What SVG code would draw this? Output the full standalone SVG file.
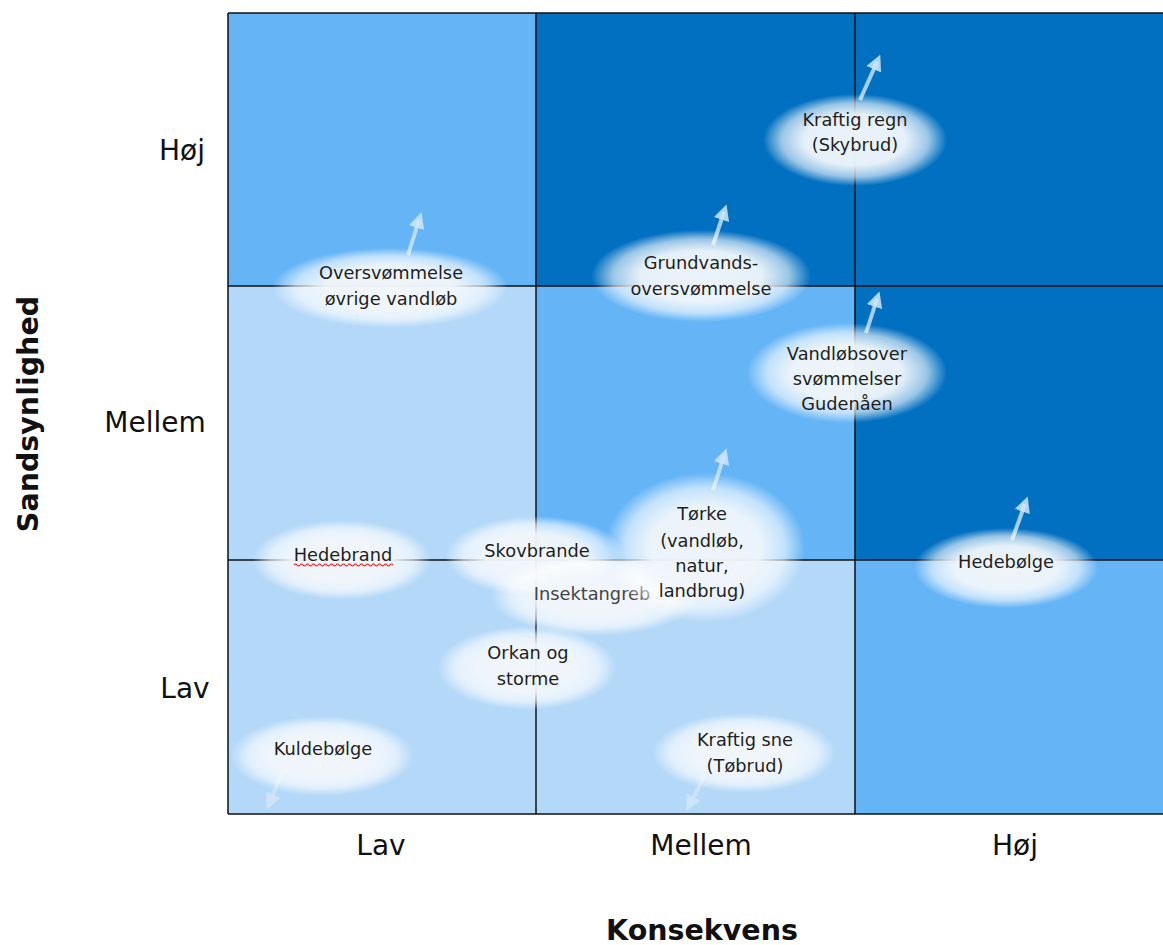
<svg xmlns="http://www.w3.org/2000/svg" width="1163" height="945" viewBox="0 0 1163 945">
<style>
.lo{fill:#b3d8f8}.mi{fill:#65b5f6}.hi{fill:#0170c1}
.gl{stroke:#111;stroke-width:1.5;fill:none}
.t{font-family:"DejaVu Sans",Verdana,sans-serif;font-size:17.8px;fill:#1e1e1e;text-anchor:middle}
.ax{font-family:"DejaVu Sans",Verdana,sans-serif;font-size:28px;fill:#111;text-anchor:middle}
.ttl{font-family:"DejaVu Sans",Verdana,sans-serif;font-size:28.5px;font-weight:bold;fill:#111;text-anchor:middle}
.arr{stroke:#cfe6f8;stroke-width:4;fill:none;stroke-opacity:0.8;marker-end:url(#ah)}
.blob{fill:url(#glow)}
</style>
<defs>
<radialGradient id="glow" cx="0.5" cy="0.5" r="0.5">
<stop offset="0" stop-color="#f2f7fb" stop-opacity="0.97"/>
<stop offset="0.55" stop-color="#f2f7fb" stop-opacity="0.95"/>
<stop offset="0.8" stop-color="#ffffff" stop-opacity="0.6"/>
<stop offset="1" stop-color="#ffffff" stop-opacity="0"/>
</radialGradient>
<marker id="ah" viewBox="0 0 10 10" refX="5" refY="5" markerWidth="4" markerHeight="4" orient="auto" markerUnits="strokeWidth">
<path d="M0,0 L10,5 L0,10 z" fill="#cfe6f8" fill-opacity="0.85"/>
</marker>
</defs>
<rect width="1163" height="945" fill="#ffffff"/>
<g id="grid">
<rect class="mi" x="228" y="13" width="308" height="273"/>
<rect class="hi" x="536" y="13" width="319" height="273"/>
<rect class="hi" x="855" y="13" width="308" height="273"/>
<rect class="lo" x="228" y="286" width="308" height="274"/>
<rect class="mi" x="536" y="286" width="319" height="274"/>
<rect class="hi" x="855" y="286" width="308" height="274"/>
<rect class="lo" x="228" y="560" width="308" height="254"/>
<rect class="lo" x="536" y="560" width="319" height="254"/>
<rect class="mi" x="855" y="560" width="308" height="254"/>
<path class="gl" d="M228,13 H1163 M228,286 H1163 M228,560 H1163 M228,814 H1163 M228,13 V814 M536,13 V814 M855,13 V814"/>
</g>
<g id="axes">
<text class="ax" x="182" y="160">Høj</text>
<text class="ax" x="155" y="432">Mellem</text>
<text class="ax" x="185" y="698">Lav</text>
<text class="ax" x="381" y="855">Lav</text>
<text class="ax" x="701" y="855">Mellem</text>
<text class="ax" x="1015" y="855">Høj</text>
<text class="ttl" x="702" y="940">Konsekvens</text>
<text class="ttl" transform="translate(38,414) rotate(-90)">Sandsynlighed</text>
</g>
<g id="connectors">
<path class="arr" d="M860,100 L877,62"/>
<path class="arr" d="M408,255 L419,220"/>
<path class="arr" d="M713,245 L724,212"/>
<path class="arr" d="M866,333 L877,299"/>
<path class="arr" d="M713,490 L724,456"/>
<path class="arr" d="M1012,540 L1025,504"/>
<path class="arr" d="M283,770 L270,802"/>
<path class="arr" d="M705,775 L690,804"/>
</g>
<g id="node-kraftig-regn">
<ellipse class="blob" cx="855" cy="140" rx="92" ry="46"/>
<text class="t" x="855" y="126">Kraftig regn</text>
<text class="t" x="855" y="151">(Skybrud)</text>
</g>
<g id="node-oversvommelse">
<ellipse class="blob" cx="390" cy="288" rx="118" ry="40"/>
<text class="t" x="391" y="279">Oversvømmelse</text>
<text class="t" x="391" y="305">øvrige vandløb</text>
</g>
<g id="node-grundvand">
<ellipse class="blob" cx="701" cy="276" rx="110" ry="46"/>
<text class="t" x="701" y="269">Grundvands-</text>
<text class="t" x="701" y="295">oversvømmelse</text>
</g>
<g id="node-vandlob">
<ellipse class="blob" cx="847" cy="373" rx="100" ry="50"/>
<text class="t" x="847" y="360">Vandløbsover</text>
<text class="t" x="847" y="385">svømmelser</text>
<text class="t" x="847" y="410">Gudenåen</text>
</g>
<g id="node-skovbrande">
<ellipse class="blob" cx="535" cy="556" rx="90" ry="40"/>
<text class="t" x="537" y="557">Skovbrande</text>
</g>
<g id="node-insektangreb">
<ellipse class="blob" cx="595" cy="596" rx="105" ry="40"/>
<text class="t" x="592" y="600" style="fill:#444">Insektangreb</text>
</g>
<g id="node-torke">
<ellipse class="blob" cx="705" cy="548" rx="100" ry="75"/>
<text class="t" x="702" y="520">Tørke</text>
<text class="t" x="702" y="547">(vandløb,</text>
<text class="t" x="702" y="572">natur,</text>
<text class="t" x="702" y="597">landbrug)</text>
</g>
<g id="node-hedebrand">
<ellipse class="blob" cx="342" cy="560" rx="90" ry="40"/>
<text class="t" x="343" y="561">Hedebrand</text>
<path d="M294,565 q1.5,-2 3,0 t3,0 t3,0 t3,0 t3,0 t3,0 t3,0 t3,0 t3,0 t3,0 t3,0 t3,0 t3,0 t3,0 t3,0 t3,0 t3,0 t3,0 t3,0 t3,0 t3,0 t3,0 t3,0 t3,0 t3,0 t3,0 t3,0 t3,0 t3,0 t3,0 t3,0 t3,0 t3,0" stroke="#e02020" stroke-width="1.2" fill="none"/>
</g>
<g id="node-hedebolge">
<ellipse class="blob" cx="1006" cy="568" rx="92" ry="40"/>
<text class="t" x="1006" y="568">Hedebølge</text>
</g>
<g id="node-orkan">
<ellipse class="blob" cx="527" cy="668" rx="90" ry="42"/>
<text class="t" x="528" y="659">Orkan og</text>
<text class="t" x="528" y="685">storme</text>
</g>
<g id="node-kuldebolge">
<ellipse class="blob" cx="322" cy="756" rx="92" ry="40"/>
<text class="t" x="323" y="755">Kuldebølge</text>
</g>
<g id="node-kraftig-sne">
<ellipse class="blob" cx="744" cy="753" rx="92" ry="40"/>
<text class="t" x="745" y="746">Kraftig sne</text>
<text class="t" x="745" y="772">(Tøbrud)</text>
</g>
</svg>
